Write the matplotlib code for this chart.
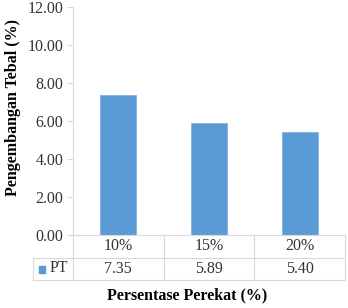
import matplotlib
matplotlib.use("Agg")
import matplotlib.pyplot as plt
import matplotlib.transforms as mtransforms

categories = ["10%", "15%", "20%"]
values = [7.35, 5.89, 5.40]
series_name = "PT"
yticks = [0, 2, 4, 6, 8, 10, 12]

plt.rcParams['font.family'] = ['Liberation Serif', 'DejaVu Serif']

W, H = 348, 308
fig = plt.figure(figsize=(W / 100, H / 100), dpi=100)
left, right, bottom, top = 73, 345, 235, 7
ax = fig.add_axes([left / W, 1 - bottom / H, (right - left) / W, (bottom - top) / H])

bar_color = "#5B9BD5"
grid_color = "#D9D9D9"
txt_color = "#333333"
fs = 11.5
n = len(categories)
x = list(range(n))
ax.bar(x, values, width=0.4, color=bar_color, edgecolor="#7FB2E0", linewidth=0.6)
ax.set_xlim(-0.5, n - 0.5)
ax.set_ylim(0, 12)
ax.set_yticks(yticks)
ax.set_yticklabels([f"{v:.2f}" for v in yticks], fontsize=fs, color=txt_color)
ax.tick_params(axis='y', length=4, width=0.8, color=grid_color, pad=3)
ax.set_xticks([])
for s in ["top", "right", "bottom"]:
    ax.spines[s].set_visible(False)
ax.spines["left"].set_color(grid_color)
ax.spines["left"].set_linewidth(0.8)

# data table below axes
axh = bottom - top
r1 = -23 / axh
r2 = -45 / axh
ext_left = (33 - left) / (right - left)
lkw = dict(color=grid_color, linewidth=0.8, clip_on=False, transform=ax.transAxes)
ax.plot([0, 1], [0, 0], **lkw)
ax.plot([ext_left, 1], [r1, r1], **lkw)
ax.plot([ext_left, 1], [r2, r2], **lkw)
ax.plot([0, 0], [0, r2], **lkw)
ax.plot([ext_left, ext_left], [r1, r2], **lkw)
for i in range(1, n + 1):
    xf = i / n
    ax.plot([xf, xf], [0, r2], **lkw)

trans = mtransforms.blended_transform_factory(ax.transData, ax.transAxes)
for i, (c, v) in enumerate(zip(categories, values)):
    ax.text(i, r1 / 2, c, ha='center', va='center', fontsize=fs, color=txt_color,
            transform=trans, clip_on=False)
    ax.text(i, (r1 + r2) / 2, f"{v:.2f}", ha='center', va='center', fontsize=fs,
            color=txt_color, transform=trans, clip_on=False)

# legend key in table
fig.patches.append(plt.Rectangle((39 / W, 1 - 273 / H), 6 / W, 7 / H, color=bar_color,
                                 transform=fig.transFigure))
fig.text(50 / W, 1 - 268.5 / H, series_name, ha='left', va='center', fontsize=fs, color=txt_color)

fig.text(187 / W, 1 - 295 / H, "Persentase Perekat (%)", ha='center', va='center',
         fontsize=fs, fontweight='bold', color="#000000")
fig.text(13 / W, 1 - 108 / H, "Pengembangan Tebal (%)", ha='center', va='center', rotation=90,
         fontsize=fs, fontweight='bold', color="#000000")

fig.savefig("out.png", dpi=100)
